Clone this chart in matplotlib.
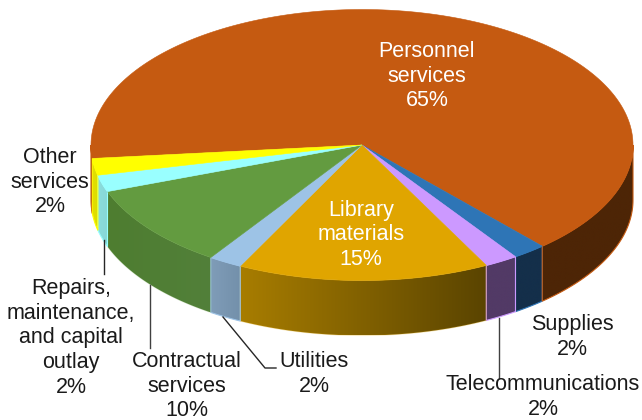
import numpy as np
import matplotlib
matplotlib.use('Agg')
import matplotlib.pyplot as plt
from matplotlib.patches import Polygon
from matplotlib.colors import LinearSegmentedColormap

plt.rcParams['font.family'] = ['Liberation Sans', 'DejaVu Sans']

# Slices, clockwise starting from the left edge of the pie
categories = ['Personnel services', 'Supplies', 'Telecommunications', 'Library materials',
              'Utilities', 'Contractual services', 'Repairs, maintenance, and capital outlay',
              'Other services']
values = [65, 2, 2, 15, 2, 10, 2, 2]
top_colors = ['#C55A11', '#2E75B6', '#CC99FF', '#E0A500', '#9DC3E6', '#639B40', '#99FFFF', '#FFFF00']
wall_left = ['#4D2506', '#142F4A', '#523A66', '#A87D00', '#7F9CB8', '#4E7D30', '#8ADCDC', '#E2E000']
wall_right = ['#4D2506', '#142F4A', '#523A66', '#5A4400', '#7390AA', '#52803A', '#88D8D8', '#DEDC00']
edge_alpha = [1, 1, 1, 0.25, 1, 0.2, 1, 1]

# Pie geometry, in pixels of the picture
cx, cy = 362, 145
rx, ry = 271, 135.5
depth = 55
start = 185.7

fig = plt.figure(figsize=(6.42, 4.2), dpi=100)
ax = fig.add_axes([0, 0, 1, 1])
ax.set_xlim(0, 642)
ax.set_ylim(420, 0)
ax.axis('off')


def rim(t):
    # t in degrees, counterclockwise, y points down in the picture
    t = np.radians(t)
    return cx + rx * np.cos(t), cy - ry * np.sin(t)


def wall(a, b, i):
    t = np.linspace(a, b, 60)
    x, y = rim(t)
    pts = np.r_[np.c_[x, y], np.c_[x[::-1], y[::-1] + depth]]
    poly = Polygon(pts, closed=True, fc='none', ec='none', zorder=2)
    ax.add_patch(poly)
    cmap = LinearSegmentedColormap.from_list('w', [wall_left[i], wall_right[i]])
    x0, x1 = pts[:, 0].min(), pts[:, 0].max()
    y0, y1 = pts[:, 1].min(), pts[:, 1].max()
    im = ax.imshow(np.linspace(0, 1, 256).reshape(1, -1), cmap=cmap, extent=[x0, x1, y1, y0],
                   aspect='auto', zorder=2, interpolation='bilinear')
    im.set_clip_path(poly)
    ax.add_patch(Polygon(pts, closed=True, fc='none', ec=top_colors[i], lw=0.8,
                         alpha=edge_alpha[i], zorder=3))


edges = start - np.cumsum([0] + values) * 3.6

# Personnel wraps round the far left, thin sliver behind the yellow wall
wall(edges[-1], -180, 0)

# Side walls, only the front half of the pie can be seen. Personnel goes last for its orange edge
for i in [1, 2, 3, 4, 5, 6, 7, 0]:
    a, b = min(edges[i], 0), max(edges[i + 1], -180)
    if a > b:
        wall(a, b, i)

ax.set_xlim(0, 642)
ax.set_ylim(420, 0)

# Top face
for i in range(len(values)):
    t = np.linspace(edges[i], edges[i + 1], 200)
    x, y = rim(t)
    pts = np.r_[[[cx, cy]], np.c_[x, y]]
    ax.add_patch(Polygon(pts, closed=True, fc=top_colors[i], ec=top_colors[i], lw=0.4, zorder=4))

# Leader lines
ax.plot([104.3, 104.3], [240, 274], color='#262626', lw=1, zorder=5)
ax.plot([150, 150], [285, 348], color='#404040', lw=1, zorder=5)
ax.plot([223, 265, 276], [317, 368, 368], color='#262626', lw=1, zorder=5)
ax.plot([499, 499], [318, 378], color='#404040', lw=1, zorder=5)

fs = 15.5
dark = '#1A1A1A'
kw = dict(ha='center', va='center', fontsize=fs, linespacing=1.22, zorder=6)
ax.text(427, 76, 'Personnel\nservices\n65%', color='white', **kw)
ax.text(361, 235, 'Library\nmaterials\n15%', color='white', **kw)
ax.text(50, 182, 'Other\nservices\n2%', color=dark, **kw)
ax.text(71, 338, 'Repairs,\nmaintenance,\nand capital\noutlay\n2%', color=dark, **kw)
ax.text(187, 386, 'Contractual\nservices\n10%', color=dark, **kw)
ax.text(314, 374, 'Utilities\n2%', color=dark, **kw)
ax.text(572, 337, 'Supplies\n2%', color=dark, **kw)
ax.text(543, 397, 'Telecommunications\n2%', color=dark, **kw)

fig.savefig('out.png', dpi=100)
